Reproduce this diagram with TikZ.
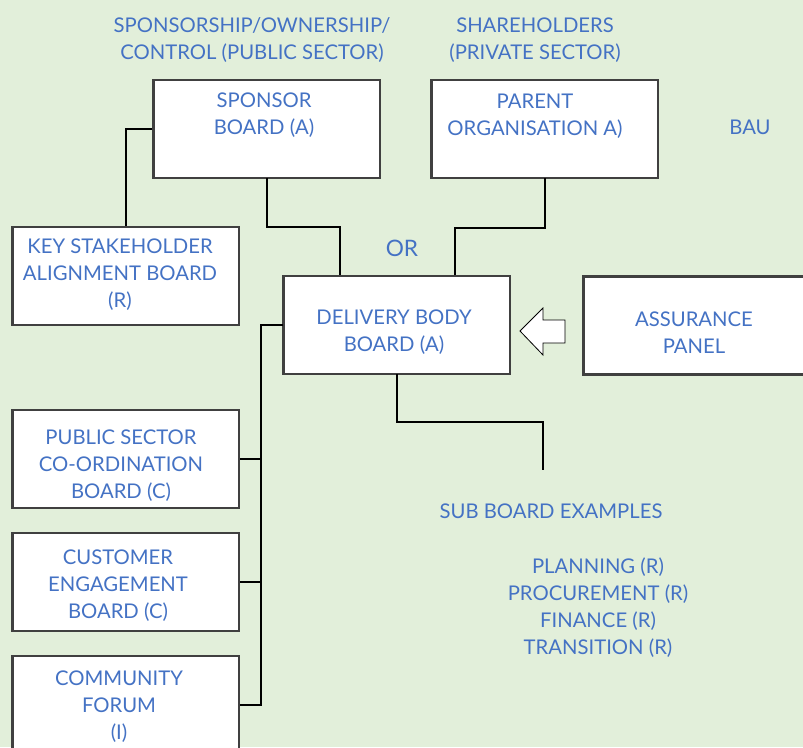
\documentclass[tikz,border=0pt]{standalone}
\usepackage{fontspec}
\setmainfont{Lato}
\usepackage{xcolor}
\usetikzlibrary{positioning}

\definecolor{bgreen}{HTML}{E2EFDA}
\definecolor{tblue}{HTML}{4472C4}
\definecolor{bordergray}{HTML}{404040}

\tikzset{
  brd/.style={draw=bordergray, line width=2pt, fill=white, minimum width=170pt, minimum height=73.5pt, inner sep=0pt},
  lbl/.style={text=tblue, align=center, font=\fontsize{15.2}{20.25}\selectfont, inner sep=0pt},
  conn/.style={draw=black, line width=1.1pt}
}

\begin{document}
\begin{tikzpicture}[x=0.75pt,y=-0.75pt]
			\fill[bgreen] (0,0) rectangle (803,747);
			\useasboundingbox (0,0) rectangle (803,747);
			\clip (0,0) rectangle (803,747);
			% boxes
			\node[brd] (spon) at (266.5,129) {};
			\node[brd] (parent) at (544.5,129) {};
			\node[brd] (key) at (125.5,276) {};
			\node[brd] (deliv) at (396.5,325) {};
			\node[brd] (assur) at (697,325.5) {};
			\node[brd] (pub) at (125.5,459) {};
			\node[brd] (cust) at (125.5,582) {};
			\node[brd] (comm) at (125.5,705) {};
			% connectors
			\coordinate (sponL) at (spon.west |- 0,129);
			\coordinate (sponB) at (267,178);
			\coordinate (parB) at (545,178);
			\coordinate (delL) at (283,325);
			\coordinate (delB) at (397,374);
			\coordinate (subEnd) at (543,470);
			\draw[conn] (sponL) -| (key.north -| 126,0);
			\draw[conn] (sponB) |- (340,227) -- (deliv.north -| 340,0);
			\draw[conn] (parB) |- (455,228) -- (deliv.north -| 455,0);
			\draw[conn] (delL) -| (261,705) -- (comm.east);
			\draw[conn] (261,459) -- (pub.east);
			\draw[conn] (261,582) -- (cust.east);
			\draw[conn] (delB) |- (543,422) -- (subEnd);
			% arrow
			\draw[line width=0.6pt, fill=white] (520,331) -- (543,308) -- (543,320) -- (565,320) -- (565,343) -- (543,343) -- (543,355) -- cycle;
			% labels
			\node[lbl] (sponT) at (264,115.5) {SPONSOR\\BOARD (A)};
			\node[lbl] (parT) at (535,116.5) {PARENT\\ORGANISATION A)};
			\node[lbl] (keyT) at (120,275) {KEY STAKEHOLDER\\ALIGNMENT BOARD\\(R)};
			\node[lbl] (delT) at (394,332.5) {DELIVERY BODY\\BOARD (A)};
			\node[lbl] (assT) at (694,332.5) {ASSURANCE\\PANEL};
			\node[lbl] (pubT) at (121,465.5) {PUBLIC SECTOR\\CO-ORDINATION\\BOARD (C)};
			\node[lbl] (custT) at (118,586) {CUSTOMER\\ENGAGEMENT\\BOARD (C)};
			\node[lbl] (commT) at (119,707) {COMMUNITY\\FORUM\\(I)};
			\node[lbl] (ownT) at (252,40.5) {SPONSORSHIP/OWNERSHIP/\\CONTROL (PUBLIC SECTOR)};
			\node[lbl] (shT) at (535,40.5) {SHAREHOLDERS\\(PRIVATE SECTOR)};
			\node[lbl] (bauT) at (750,127) {BAU};
			\node[lbl, font=\fontsize{17}{20}\selectfont] (orT) at (402,248) {OR};
			\node[lbl] (subT) at (551,511) {SUB BOARD EXAMPLES};
			\node[lbl] (listT) at (598,607.5) {PLANNING (R)\\PROCUREMENT (R)\\FINANCE (R)\\TRANSITION (R)};
		\end{tikzpicture}
\end{document}
